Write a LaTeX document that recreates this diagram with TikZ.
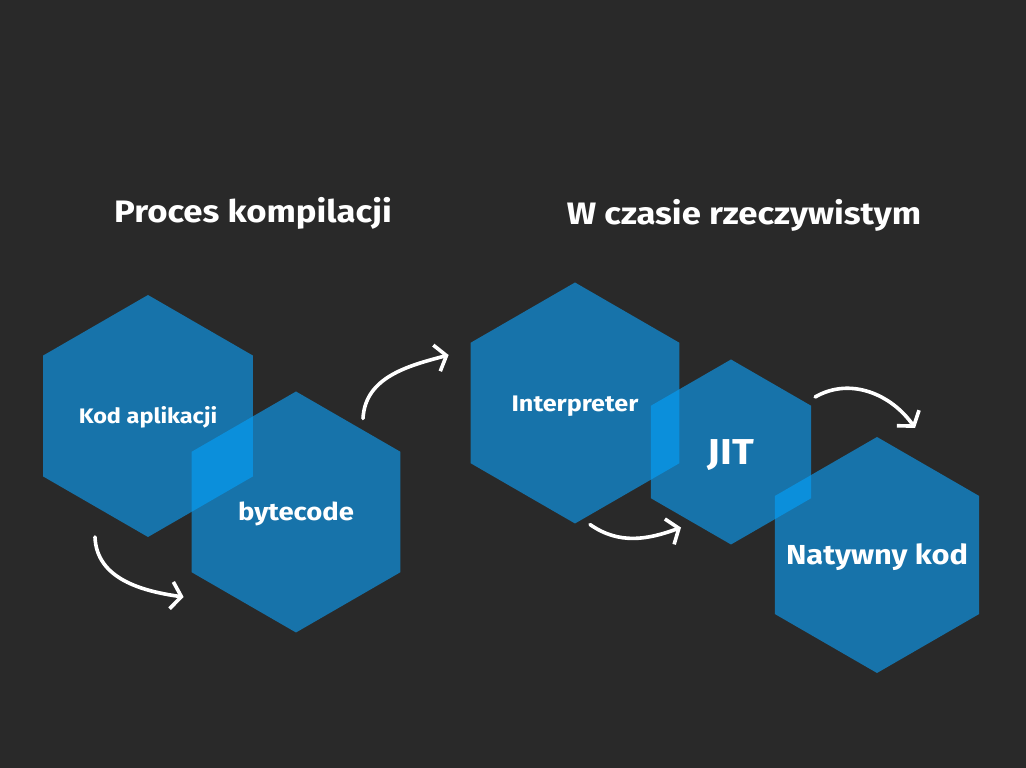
\documentclass[tikz,border=0pt]{standalone}
\usepackage{fontspec}
\setmainfont{Fira Sans}[FakeStretch=1.12]
\usepackage{tikz}
\usetikzlibrary{shapes.geometric, arrows.meta, calc}
\definecolor{bgdark}{RGB}{41,41,41}
\definecolor{hexblue}{RGB}{23,115,170}
\definecolor{hexlight}{RGB}{11,143,219}

\newcommand{\hexcorners}[1]{(#1.corner 1) -- (#1.corner 2) -- (#1.corner 3) -- (#1.corner 4) -- (#1.corner 5) -- (#1.corner 6) -- cycle}
\newcommand{\hextext}[1]{\makebox[0pt]{\raisebox{-0.36em}[0pt][0pt]{#1}}}

\begin{document}
\begin{tikzpicture}[x=1pt, y=1pt,
  hexbox/.style={regular polygon, regular polygon sides=6, regular polygon rotate=30,
    fill=hexblue, inner sep=0pt, outer sep=0pt, text=white, font=\bfseries},
  title/.style={text=white, font=\bfseries\fontsize{31}{36}\selectfont},
  flow/.style={draw=white, line width=3.6pt, line cap=round,
    -{Straight Barb[length=10pt, width=27pt, line width=3.6pt]}}]

% Background
\fill[bgdark] (0,0) rectangle (1026,768);

% Titles
\node[title] (tcomp) at (253,555) {Proces kompilacji};
\node[title] (trun) at (744,553) {W czasie rzeczywistym};

% Compile time
\node[hexbox, minimum size=242pt, font=\bfseries\fontsize{21}{25}\selectfont] (kod) at (148,352) {\hextext{Kod aplikacji}};
\node[hexbox, minimum size=241pt, font=\bfseries\fontsize{24.5}{29}\selectfont] (byte) at (296,256) {\hextext{bytecode}};

% Run time
\node[hexbox, minimum size=241pt, font=\bfseries\fontsize{22.5}{27}\selectfont] (interp) at (575,365) {\hextext{Interpreter}};
\node[hexbox, minimum size=185pt, font=\bfseries\fontsize{36}{40}\selectfont] (jit) at (731,316) {\hextext{JIT}};
\node[hexbox, minimum size=236pt, font=\bfseries\fontsize{27.5}{32}\selectfont] (natyw) at (877,213) {\hextext{Natywny kod}};

% Overlaps
\begin{scope}
\clip \hexcorners{kod};
\fill[hexlight] \hexcorners{byte};
\end{scope}
\begin{scope}
\clip \hexcorners{interp};
\fill[hexlight] \hexcorners{jit};
\end{scope}
\begin{scope}
\clip \hexcorners{jit};
\fill[hexlight] \hexcorners{natyw};
\end{scope}

% Arrows
\draw[flow] ([xshift=-53pt]kod.south) to[out=-88, in=172] ([shift={(-8,-85)}]byte.west);
\draw[flow] ([shift={(67,-27)}]byte.north) to[out=87, in=195] ([shift={(-22,48)}]interp.west);
\draw[flow] ([shift={(15,-1)}]interp.south) to[out=-35, in=200] ([shift={(-50,17)}]jit.south);
\draw[flow] ([shift={(4,55)}]jit.east) to[out=30, in=125] ([shift={(38,9)}]natyw.north);
\end{tikzpicture}
\end{document}
